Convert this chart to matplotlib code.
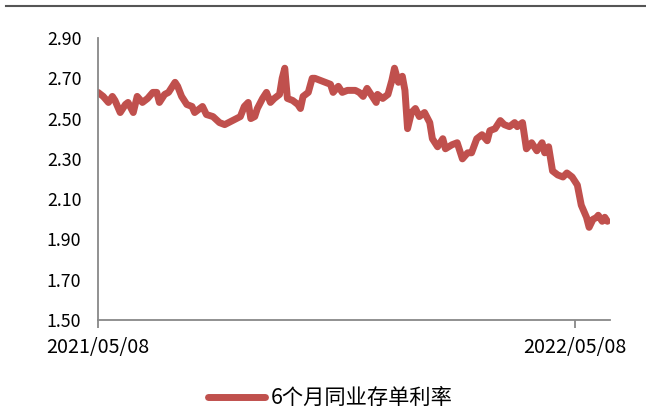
"""
6-month interbank NCD rate, May 2021 - June 2022.
"""
import matplotlib
matplotlib.use("Agg")
import matplotlib.pyplot as plt
import matplotlib.dates as mdates
from matplotlib.lines import Line2D
import numpy as np
import pandas as pd

plt.rcParams['font.family'] = ['Noto Sans CJK SC', 'DejaVu Sans']

START = pd.Timestamp("2021-05-08")
SERIES_NAME = "6个月同业存单利率"
TICK_DATES = ["2021-05-08", "2022-05-08"]
Y_TICKS = [1.50, 1.70, 1.90, 2.10, 2.30, 2.50, 2.70, 2.90]

# days since 2021/05/08
days = [0, 4, 8, 11, 13, 17, 21, 23, 27, 30, 34, 38, 42, 45, 47, 51, 54, 57, 59, 61,
        64, 68, 72, 74, 80, 83, 88, 93, 97, 103, 109, 112, 115, 117, 120, 122, 126, 129, 132, 135,
        139, 141, 143, 145, 149, 153, 155, 157, 161, 164, 166, 170, 174, 178, 180, 184, 187, 191, 197, 200,
        203, 206, 210, 213, 214, 218, 222, 225, 227, 230, 233, 235, 237, 240, 243, 246, 250, 254, 256, 260,
        264, 266, 271, 275, 279, 283, 286, 290, 294, 298, 300, 304, 308, 311, 315, 319, 321, 325, 328, 332,
        336, 340, 342, 345, 348, 352, 356, 359, 363, 367, 370, 374, 376, 379, 382, 383, 386, 388, 390]
# rate, %
rate = [2.63, 2.61, 2.58, 2.61, 2.59, 2.53, 2.57, 2.58, 2.53, 2.61, 2.58, 2.60, 2.63, 2.63, 2.58, 2.62, 2.63, 2.66, 2.68, 2.66,
        2.61, 2.57, 2.56, 2.53, 2.56, 2.52, 2.51, 2.48, 2.47, 2.49, 2.51, 2.56, 2.58, 2.50, 2.51, 2.55, 2.60, 2.63, 2.58, 2.60,
        2.62, 2.70, 2.75, 2.60, 2.59, 2.57, 2.55, 2.61, 2.63, 2.70, 2.70, 2.69, 2.68, 2.67, 2.63, 2.66, 2.63, 2.64, 2.64, 2.63,
        2.61, 2.65, 2.61, 2.58, 2.62, 2.60, 2.62, 2.69, 2.75, 2.68, 2.71, 2.64, 2.45, 2.53, 2.55, 2.51, 2.53, 2.48, 2.40, 2.36,
        2.40, 2.35, 2.37, 2.38, 2.30, 2.33, 2.33, 2.40, 2.42, 2.39, 2.44, 2.45, 2.49, 2.47, 2.46, 2.48, 2.46, 2.48, 2.35, 2.38,
        2.34, 2.38, 2.33, 2.36, 2.24, 2.22, 2.21, 2.23, 2.21, 2.17, 2.07, 2.01, 1.96, 2.00, 2.01, 2.02, 1.99, 2.01, 1.99]

dates = START + pd.to_timedelta(days, unit="D")

fig = plt.figure(figsize=(6.46, 4.12), dpi=100)
ax = fig.add_axes([98 / 646, 92 / 412, 512 / 646, 282 / 412])

ax.plot(dates, rate, color="#C0504D", linewidth=5,
        solid_joinstyle="round", solid_capstyle="round", label=SERIES_NAME)

ax.set_ylim(1.50, 2.90)
ax.set_yticks(Y_TICKS)
ax.set_yticklabels([f"{v:.2f}" for v in Y_TICKS])
ax.set_xlim(START, START + pd.Timedelta(days=392))
ax.set_xticks(pd.to_datetime(TICK_DATES))
ax.xaxis.set_major_formatter(mdates.DateFormatter("%Y/%m/%d"))

for side in ("top", "right"):
    ax.spines[side].set_visible(False)
for side in ("left", "bottom"):
    ax.spines[side].set_color("#888888")
    ax.spines[side].set_linewidth(1.3)

ax.tick_params(axis="y", length=0, pad=12, labelsize=12.8, colors="#000000")
ax.tick_params(axis="x", length=6, width=1.3, color="#888888", pad=6,
               labelsize=14.2, labelcolor="#000000")

# rule across the top of the figure
fig.add_artist(Line2D([6 / 646, 1.0], [1 - 6 / 412, 1 - 6 / 412],
                      color="#555555", linewidth=1.5))

fig.legend(loc="center", bbox_to_anchor=(330 / 646, 1 - 398 / 412), frameon=False,
           fontsize=15.3, handlelength=2.7, handletextpad=0.25)

fig.savefig("out.png", dpi=100)
